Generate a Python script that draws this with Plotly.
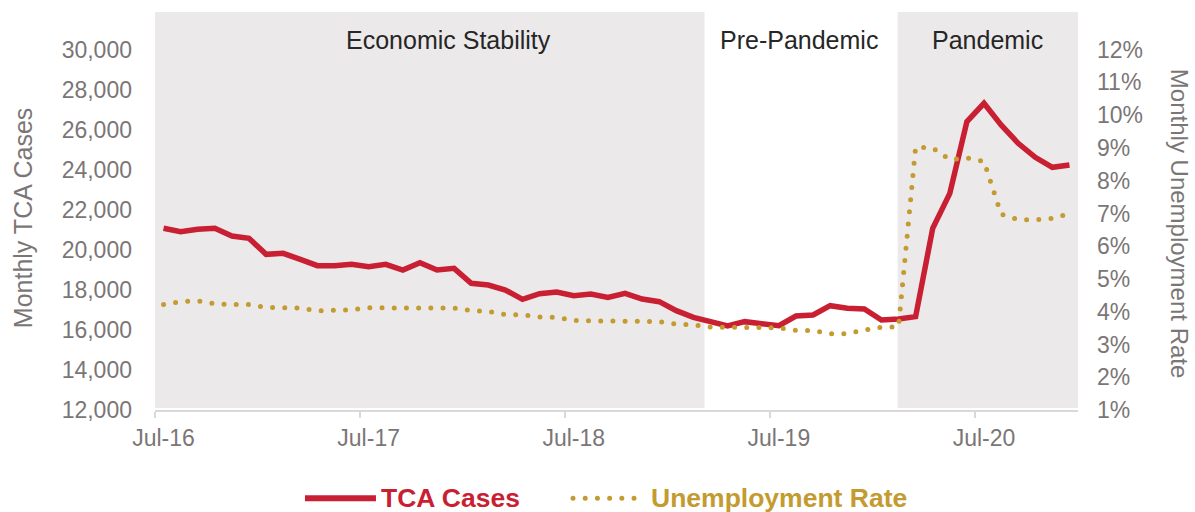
import pandas as pd
import plotly.graph_objects as go

# Monthly series, Jul-2016 through Dec-2020
months = pd.date_range("2016-07-01", periods=54, freq="MS").strftime("%b-%y").tolist()

tca_cases = [21085, 20917, 21033, 21083, 20700, 20583, 19783, 19833, 19533, 19217,
             19217, 19283, 19167, 19283, 19000, 19367, 19000, 19083, 18333, 18250,
             18000, 17533, 17817, 17900, 17717, 17800, 17633, 17833, 17550, 17417,
             16967, 16633, 16417, 16200, 16417, 16300, 16217, 16700, 16750, 17217,
             17083, 17050, 16500, 16550, 16667, 21083, 22833, 26417, 27333, 26250,
             25333, 24633, 24133, 24250]

unemployment_rate = [4.22, 4.31, 4.33, 4.24, 4.22, 4.22, 4.13, 4.12, 4.11, 4.03,
                     4.03, 4.06, 4.12, 4.12, 4.12, 4.12, 4.12, 4.11, 4.04, 4.01,
                     3.91, 3.90, 3.84, 3.83, 3.73, 3.72, 3.72, 3.72, 3.72, 3.70,
                     3.62, 3.60, 3.53, 3.53, 3.53, 3.53, 3.51, 3.43, 3.43, 3.33,
                     3.33, 3.44, 3.53, 3.54, 9.03, 9.00, 8.64, 8.70, 8.59, 6.98,
                     6.81, 6.81, 6.85, 7.00]

# Economic periods (in month-index units) and where their labels sit
period_names = ["Economic Stability", "Pre-Pandemic", "Pandemic"]
period_start = [-0.5, 31.65, 42.95]
period_end = [31.65, 42.95, 53.5]
period_shaded = [True, False, True]
period_label_x = [16.7, 37.2, 48.2]

left_ticks = list(range(12000, 30001, 2000))
right_ticks = list(range(1, 13))
right_tick_text = [f"{v}%" for v in right_ticks]
year_ticks = [i for i, m in enumerate(months) if m.startswith("Jul")]

RED = "#C91F32"
GOLD = "#C39B30"
SHADE = "#ECE9EA"
GREY_TXT = "#7B7676"
AXIS_GREY = "#D9D9D9"
FONT = "Liberation Sans, Arial, sans-serif"

x = list(range(len(months)))

fig = go.Figure()
fig.add_trace(go.Scatter(
    x=x, y=tca_cases, name="TCA Cases", mode="lines",
    line=dict(color=RED, width=5.5), yaxis="y", showlegend=False,
))
fig.add_trace(go.Scatter(
    x=x, y=unemployment_rate, name="Unemployment Rate", mode="lines",
    line=dict(color=GOLD, width=5, dash="0px,12.2px"), yaxis="y2", showlegend=False,
))

shapes = []
annotations = []
for name, s, e, shaded, lx in zip(period_names, period_start, period_end,
                                  period_shaded, period_label_x):
    if shaded:
        shapes.append(dict(type="rect", xref="x", yref="paper", x0=s, x1=e,
                           y0=0.005, y1=1, fillcolor=SHADE, line=dict(width=0),
                           layer="below"))
    annotations.append(dict(text=name, x=lx, xref="x", y=0.93, yref="paper",
                            showarrow=False, xanchor="center", yanchor="middle",
                            font=dict(family=FONT, size=25, color="#262626")))

# Axis titles
annotations.append(dict(text="Monthly TCA Cases", textangle=-90, x=-0.143, xref="paper",
                        y=0.482, yref="paper", showarrow=False,
                        xanchor="center", yanchor="middle",
                        font=dict(family=FONT, size=25, color=GREY_TXT)))
annotations.append(dict(text="Monthly Unemployment Rate", textangle=90, x=1.1095,
                        xref="paper", y=0.47, yref="paper", showarrow=False,
                        xanchor="center", yanchor="middle",
                        font=dict(family=FONT, size=24, color=GREY_TXT)))

# Legend drawn beneath the plot
legend_y = -0.222
shapes.append(dict(type="line", xref="paper", yref="paper", x0=0.1625, x1=0.2394,
                   y0=legend_y, y1=legend_y, line=dict(color=RED, width=6)))
shapes.append(dict(type="line", xref="paper", yref="paper", x0=0.4529, x1=0.5265,
                   y0=legend_y, y1=legend_y, line=dict(color=GOLD, width=5, dash="0px,12.2px")))
annotations.append(dict(text="<b>TCA Cases</b>", x=0.2428, xref="paper", y=legend_y,
                        yref="paper", showarrow=False, xanchor="left", yanchor="middle",
                        font=dict(family=FONT, size=26.5, color=RED)))
annotations.append(dict(text="<b>Unemployment Rate</b>", x=0.535, xref="paper",
                        y=legend_y, yref="paper", showarrow=False, xanchor="left",
                        yanchor="middle", font=dict(family=FONT, size=26.5, color=GOLD)))

fig.update_layout(
    width=1195, height=512,
    margin=dict(l=155, r=117, t=12, b=102),
    paper_bgcolor="white", plot_bgcolor="white",
    font=dict(family=FONT, size=23, color=GREY_TXT),
    shapes=shapes, annotations=annotations,
    xaxis=dict(
        range=[-0.5, len(months) - 0.5], showgrid=False, zeroline=False,
        showline=True, linecolor=AXIS_GREY, linewidth=2,
        tickmode="array", tickvals=year_ticks, ticktext=[months[i] for i in year_ticks],
        ticks="", ticklabelstandoff=6,
        tickfont=dict(family=FONT, size=23, color=GREY_TXT),
        minor=dict(tickmode="array", tickvals=[i - 0.5 for i in year_ticks],
                   ticks="outside", ticklen=6, tickwidth=2, tickcolor=AXIS_GREY,
                   showgrid=False),
    ),
    yaxis=dict(
        range=[12000, 31900], showgrid=False, zeroline=False, showline=False,
        tickmode="array", tickvals=left_ticks, tickformat=",", ticks="",
        ticklabelstandoff=22, tickfont=dict(family=FONT, size=23, color=GREY_TXT),
    ),
    yaxis2=dict(
        range=[1, 13.15], overlaying="y", side="right", showgrid=False,
        zeroline=False, showline=False, tickmode="array", tickvals=right_ticks,
        ticktext=right_tick_text, ticks="", ticklabelstandoff=18,
        tickfont=dict(family=FONT, size=23, color=GREY_TXT),
    ),
)

# Round caps turn the zero-length dashes into round dots
round_dots = """
var gd = document.getElementById('{plot_id}');
function roundDots() {
  gd.querySelectorAll('path').forEach(function (p) {
    var d = (p.style.strokeDasharray || '').trim();
    if (d.indexOf('0px') === 0 || d.indexOf('0,') === 0 || d.indexOf('0 ') === 0) {
      p.style.strokeLinecap = 'round';
    }
  });
}
roundDots();
gd.on('plotly_afterplot', roundDots);
"""

fig.write_html("out.html", post_script=round_dots)
